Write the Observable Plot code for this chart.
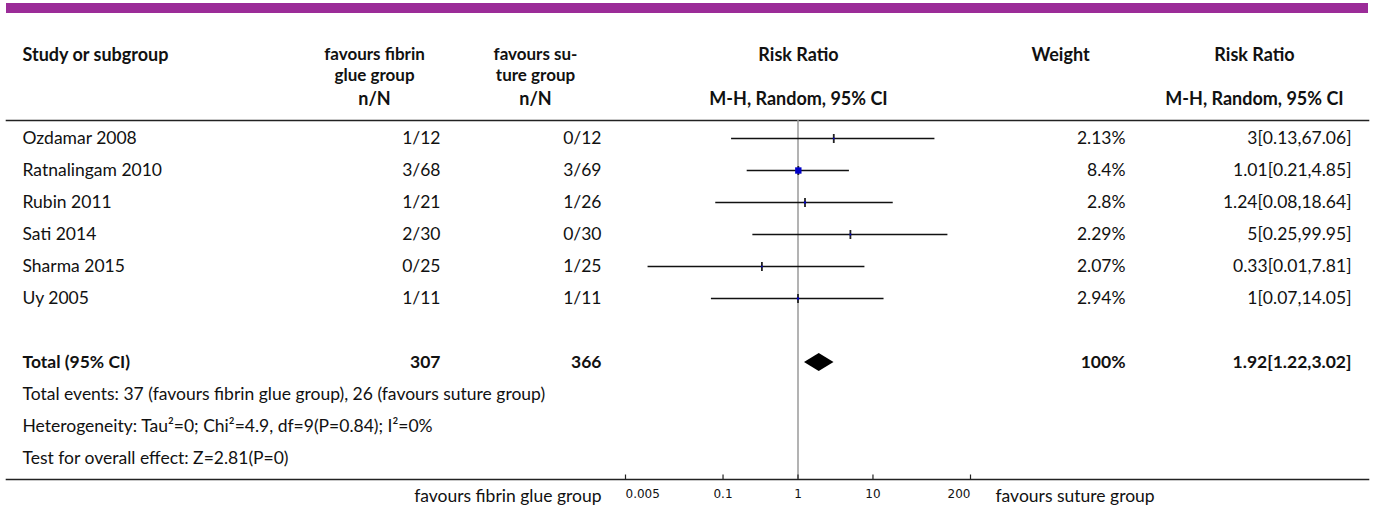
<!DOCTYPE html>
<html>
<head>
<meta charset="utf-8">
<script src="https://cdn.jsdelivr.net/npm/d3@7"></script>
<script src="https://cdn.jsdelivr.net/npm/@observablehq/plot@0.6"></script>
<style>
  body { margin: 0; background: #fff; }
  #chart { position: relative; width: 1375px; height: 511px; }
  #chart svg { position: absolute; left: 0; top: 0; }
  .topbar { position: absolute; left: 6px; top: 3px; width: 1362px; height: 10px; background: #9b2c98; z-index: 2; }
</style>
</head>
<body>
<div id="chart"><div class="topbar"></div></div>
<script>
// Fibrin glue vs suture: recurrence, risk ratio (M-H, random effects)
const studies      = ["Ozdamar 2008", "Ratnalingam 2010", "Rubin 2011", "Sati 2014", "Sharma 2015", "Uy 2005"];
const glueEvents   = [1, 3, 1, 2, 0, 1];
const glueTotals   = [12, 68, 21, 30, 25, 11];
const sutureEvents = [0, 3, 1, 0, 1, 1];
const sutureTotals = [12, 69, 26, 30, 25, 11];
const riskRatio    = [3, 1.01, 1.24, 5, 0.33, 1];
const ciLower      = [0.13, 0.21, 0.08, 0.25, 0.01, 0.07];
const ciUpper      = [67.06, 4.85, 18.64, 99.95, 7.81, 14.05];
const weights      = [2.13, 8.4, 2.8, 2.29, 2.07, 2.94];

const totalLabel  = "Total (95% CI)";
const totalGlue   = 307;
const totalSuture = 366;
const totalWeight = 100;
const totalRR     = 1.92;
const totalLower  = 1.22;
const totalUpper  = 3.02;

const footnotes = [
  "Total events: 37 (favours fibrin glue group), 26 (favours suture group)",
  "Heterogeneity: Tau\u00B2=0; Chi\u00B2=4.9, df=9(P=0.84); I\u00B2=0%",
  "Test for overall effect: Z=2.81(P=0)"
];
const tickValues = [0.005, 0.1, 1, 10, 200];
const leftLabel  = "favours fibrin glue group";
const rightLabel = "favours suture group";

// table rows (row index drives the y scale)
const rows = studies.map((name, i) => ({
  row: i, name,
  glue: `${glueEvents[i]}/${glueTotals[i]}`,
  suture: `${sutureEvents[i]}/${sutureTotals[i]}`,
  rr: riskRatio[i], lo: ciLower[i], hi: ciUpper[i], weight: weights[i]
}));
const totalRow = [{
  row: studies.length + 1, name: totalLabel,
  glue: String(totalGlue), suture: String(totalSuture),
  rr: totalRR, lo: totalLower, hi: totalUpper, weight: totalWeight
}];
const noteRows = footnotes.map((text, i) => ({row: studies.length + 2 + i, text}));

// column layout (pixels from the left edge)
const col = {
  study: 22, glue: 440, glueHead: 374, suture: 601, sutureHead: 535,
  forest: 798, weight: 1125, weightHead: 1060, rr: 1351, rrHead: 1254
};
const ink = "#111";
const font = "Lato, 'DejaVu Sans', sans-serif";
const tickFont = "'DejaVu Sans', sans-serif";
const ciText = d => `${d.rr}[${d.lo},${d.hi}]`;

// vertical tick symbol for point estimates, and an upward one for the axis
const vTick = { draw(ctx, size) { const r = Math.sqrt(size / Math.PI); ctx.moveTo(0, -r); ctx.lineTo(0, r); } };
const upTick = { draw(ctx, size) { const r = Math.sqrt(size / Math.PI); ctx.moveTo(0, 0); ctx.lineTo(0, -r); } };

const cell = (data, options) => Plot.text(data, {y: "row", frameAnchor: "left", lineAnchor: "middle", fill: ink, ...options});
const header = (text, options) => Plot.text([text], {text: d => d, frameAnchor: "top-left", lineAnchor: "middle", fill: ink, fontWeight: "bold", fontSize: 18, ...options});
const tickLabel = (values, anchor) => Plot.text(values, {x: d => d, text: d => `${d}`, frameAnchor: "bottom", dy: 15, lineAnchor: "middle", textAnchor: anchor, fontFamily: tickFont, fontSize: 12, fill: ink});

const chart = Plot.plot({
  width: 1375,
  height: 511,
  marginLeft: 0,
  marginRight: 0,
  marginTop: 120,
  marginBottom: 32,
  style: {fontFamily: font, fontSize: "17.5px", background: "transparent"},
  x: {type: "log", domain: [0.005, 200], range: [625, 970], axis: null},
  y: {domain: [0, 10], range: [138, 458], axis: null},
  r: {type: "linear", domain: [0, 8.4], range: [0, 3.6]},
  marks: [
    // header and footer rules
    Plot.frame({anchor: "top", insetLeft: 6, insetRight: 7, stroke: "#222", strokeWidth: 1.6}),
    Plot.frame({anchor: "bottom", insetLeft: 6, insetRight: 7, stroke: "#222", strokeWidth: 1.6}),

    // line of no effect
    Plot.ruleX([1], {stroke: "#9a9a9a", strokeWidth: 1.5}),

    // confidence intervals, point estimates and weight squares
    Plot.ruleY(rows, {y: "row", x1: "lo", x2: "hi", stroke: "#111", strokeWidth: 1.5}),
    Plot.dot(rows, {x: "rr", y: "row", symbol: vTick, r: 4.5, fill: "none", stroke: "#222", strokeWidth: 1.8}),
    Plot.dot(rows, {x: "rr", y: "row", symbol: "square", r: "weight", fill: "#0000c8", stroke: "none"}),

    // pooled estimate diamond
    Plot.dot(totalRow, {
      x: "rr", y: "row",
      render(index, scales, values) {
        const g = d3.create("svg:g");
        for (const i of index) {
          const d = totalRow[i];
          const x0 = scales.x(d.lo), x1 = scales.x(d.hi), xm = values.x[i], y = values.y[i];
          g.append("path")
            .attr("d", `M${x0},${y}L${xm},${y - 9}L${x1},${y}L${xm},${y + 9}Z`)
            .attr("fill", "#000");
        }
        return g.node();
      }
    }),

    // axis ticks and labels
    Plot.dot(tickValues, {x: d => d, frameAnchor: "bottom", symbol: upTick, r: 5, fill: "none", stroke: "#222", strokeWidth: 1.2}),
    tickLabel(tickValues.slice(0, 1), "start"),
    tickLabel(tickValues.slice(1, -1), "middle"),
    tickLabel(tickValues.slice(-1), "end"),
    Plot.text([leftLabel], {text: d => d, frameAnchor: "bottom-left", dx: 601, dy: 17, textAnchor: "end", lineAnchor: "middle", fill: ink}),
    Plot.text([rightLabel], {text: d => d, frameAnchor: "bottom-left", dx: 995, dy: 17, textAnchor: "start", lineAnchor: "middle", fill: ink}),

    // column headers
    header("Study or subgroup", {dx: col.study, dy: -65, textAnchor: "start"}),
    header("favours fibrin", {dx: col.glueHead, dy: -66, textAnchor: "middle", fontSize: 17}),
    header("glue group", {dx: col.glueHead, dy: -45, textAnchor: "middle", fontSize: 17}),
    header("favours su-", {dx: col.sutureHead, dy: -66, textAnchor: "middle", fontSize: 17}),
    header("ture group", {dx: col.sutureHead, dy: -45, textAnchor: "middle", fontSize: 17}),
    header("Risk Ratio", {dx: col.forest, dy: -65, textAnchor: "middle"}),
    header("Weight", {dx: col.weightHead, dy: -65, textAnchor: "middle"}),
    header("Risk Ratio", {dx: col.rrHead, dy: -65, textAnchor: "middle"}),
    header("n/N", {dx: col.glueHead, dy: -21, textAnchor: "middle"}),
    header("n/N", {dx: col.sutureHead, dy: -21, textAnchor: "middle"}),
    header("M-H, Random, 95% CI", {dx: col.forest, dy: -21, textAnchor: "middle"}),
    header("M-H, Random, 95% CI", {dx: col.rrHead, dy: -21, textAnchor: "middle"}),

    // study rows
    cell(rows, {text: "name", dx: col.study, textAnchor: "start"}),
    cell(rows, {text: "glue", dx: col.glue, textAnchor: "end"}),
    cell(rows, {text: "suture", dx: col.suture, textAnchor: "end"}),
    cell(rows, {text: d => `${d.weight}%`, dx: col.weight, textAnchor: "end"}),
    cell(rows, {text: ciText, dx: col.rr, textAnchor: "end"}),

    // pooled row
    cell(totalRow, {text: "name", dx: col.study, textAnchor: "start", fontWeight: "bold"}),
    cell(totalRow, {text: "glue", dx: col.glue, textAnchor: "end", fontWeight: "bold"}),
    cell(totalRow, {text: "suture", dx: col.suture, textAnchor: "end", fontWeight: "bold"}),
    cell(totalRow, {text: d => `${d.weight}%`, dx: col.weight, textAnchor: "end", fontWeight: "bold"}),
    cell(totalRow, {text: ciText, dx: col.rr, textAnchor: "end", fontWeight: "bold"}),

    // summary statistics
    cell(noteRows, {text: "text", dx: col.study, textAnchor: "start"})
  ]
});

document.getElementById("chart").appendChild(chart);
</script>
</body>
</html>
